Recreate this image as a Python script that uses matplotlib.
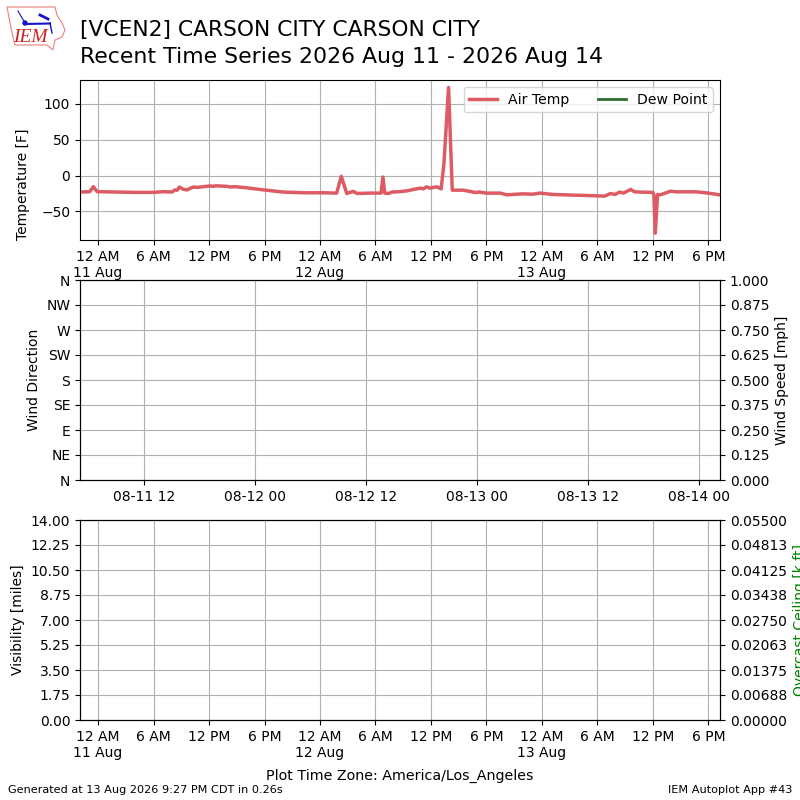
import datetime
import matplotlib
matplotlib.use("Agg")
import matplotlib.pyplot as plt
from matplotlib.patches import Circle, Polygon

# hours since midnight 11 Aug (local), temperature in F
hours = [-1.95, -0.9, -0.5, -0.1, 2, 4, 6, 7, 8, 8.3, 8.55, 8.8, 9.2, 9.6, 10.3, 10.7, 12.1, 12.4, 12.8,
         13.9, 14.3, 14.8, 16, 17.9, 20, 22.2, 24.4, 25.8, 26.3, 26.9, 27.6, 28, 29.4, 30.6, 30.8, 31,
         31.4, 31.8, 32.6, 33.4, 34.8, 35.2, 35.5, 35.9, 36.6, 37.1, 37.4, 37.9, 38.3, 39.5, 40.8, 41.2,
         42, 43.5, 44.2, 45.9, 47, 47.8, 49.2, 51.4, 53.2, 54.8, 55.4, 55.9, 56.4, 56.8, 57.6, 58, 58.6,
         60, 60.1, 60.25, 60.5, 60.8, 61.9, 62.5, 64.7, 66, 67.2]
temps = [-23, -22.5, -15.6, -22.5, -23, -23.5, -23.5, -22.5, -23, -20, -20.5, -16, -19, -20, -16, -16.5, -14.5,
         -15, -14.3, -15, -16, -15.5, -17, -20, -23, -24, -24, -24.5, -1, -25, -22, -25, -24.5, -24.5, -2,
         -24.5, -25, -23, -22.5, -21.3, -17.6, -18.5, -15.7, -17.6, -15.7, -18.5, 16.7, 123, -20.4, -20.4,
         -23.6, -23, -24.5, -24.5, -26.9, -25.5, -26, -24.5, -26.4, -27.3, -28, -28.7, -25, -26.4, -23,
         -24.5, -19.4, -22.7, -23, -23.6, -27, -80.5, -26.4, -26.9, -21.8, -22.7, -22.7, -24.5, -26.9]

wind_labels = ["N", "NE", "E", "SE", "S", "SW", "W", "NW", "N"]
wind_ticks = [0, 45, 90, 135, 180, 225, 270, 315, 360]
speed_ticks = [0, 0.125, 0.25, 0.375, 0.5, 0.625, 0.75, 0.875, 1.0]
vis_ticks = [0, 1.75, 3.5, 5.25, 7, 8.75, 10.5, 12.25, 14]
ceil_labels = ["0.00000", "0.00688", "0.01375", "0.02063", "0.02750", "0.03438", "0.04125", "0.04813", "0.05500"]
temp_ticks = [-50, 0, 50, 100]

tick_hours = [0, 6, 12, 18, 24, 30, 36, 42, 48, 54, 60, 66]
tick_labels = ["12 AM\n11 Aug", "6 AM", "12 PM", "6 PM", "12 AM\n12 Aug", "6 AM", "12 PM", "6 PM",
               "12 AM\n13 Aug", "6 AM", "12 PM", "6 PM"]
# middle panel axis runs 7 hours ahead (UTC)
mid_tick_hours = [12, 24, 36, 48, 60, 72]
mid_tick_labels = ["08-11 12", "08-12 00", "08-12 12", "08-13 00", "08-13 12", "08-14 00"]

day0 = datetime.datetime(2026, 8, 11)


def to_time(h):
    return day0 + datetime.timedelta(hours=h)


times = [to_time(h) for h in hours]
xmin = to_time(-1.95)
xmax = to_time(67.25)

AIR = "#dd5c64"
DEW = "#2e6b30"

fig = plt.figure(figsize=(8, 8), dpi=100)
ax1 = fig.add_axes([0.1, 0.7, 0.8, 0.2])
ax2 = fig.add_axes([0.1, 0.4, 0.8, 0.25])
ax3 = fig.add_axes([0.1, 0.1, 0.8, 0.25])

# temperature
ax1.plot(times, temps, color=AIR, lw=2.5, label="Air Temp")
ax1.plot([], [], color=DEW, lw=2, label="Dew Point")
ax1.set_xlim(xmin, xmax)
ax1.set_ylim(-90, 133.5)
ax1.set_yticks(temp_ticks)
ax1.set_ylabel("Temperature [F]", loc="bottom", labelpad=8)
ax1.set_xticks([to_time(h) for h in tick_hours])
ax1.set_xticklabels(tick_labels)
ax1.grid(True)
ax1.legend(loc="upper right", ncol=2, prop={"size": 10.1})

# wind
ax2.set_xlim(to_time(5.05), to_time(74.25))
ax2.set_ylim(0, 360)
ax2.set_yticks(wind_ticks)
ax2.set_yticklabels(wind_labels)
ax2.set_ylabel("Wind Direction")
ax2.set_xticks([to_time(h) for h in mid_tick_hours])
ax2.set_xticklabels(mid_tick_labels)
ax2.grid(True)
ax2b = ax2.twinx()
ax2b.set_ylim(0, 1)
ax2b.set_yticks(speed_ticks)
ax2b.set_yticklabels(["%.3f" % s for s in speed_ticks])
ax2b.set_ylabel("Wind Speed [mph]")

# visibility / ceiling
ax3.set_xlim(xmin, xmax)
ax3.set_ylim(0, 14)
ax3.set_yticks(vis_ticks)
ax3.set_yticklabels(["%.2f" % v for v in vis_ticks])
ax3.set_ylabel("Visibility [miles]")
ax3.set_xticks([to_time(h) for h in tick_hours])
ax3.set_xticklabels(tick_labels)
ax3.set_xlabel("Plot Time Zone: America/Los_Angeles", labelpad=6.5, fontsize=10.3)
ax3.grid(True)
ax3b = ax3.twinx()
ax3b.set_ylim(0, 0.055)
ax3b.set_yticks([float(c) for c in ceil_labels])
ax3b.set_yticklabels(ceil_labels)
ax3b.set_ylabel("Overcast Ceiling [k ft]", color="green")

# titles
fig.text(0.1, 0.9625, "[VCEN2] CARSON CITY CARSON CITY", fontsize=15.7, va="center")
fig.text(0.1, 0.929, "Recent Time Series 2026 Aug 11 - 2026 Aug 14", fontsize=15.85, va="center")
fig.text(0.01, 0.0125, "Generated at 13 Aug 2026 9:27 PM CDT in 0.26s", fontsize=8.1, va="center")
fig.text(0.99, 0.0125, "IEM Autoplot App #43", fontsize=8.1, va="center", ha="right")

# logo, pixel coordinates
logo = fig.add_axes([0, 0.93, 0.09, 0.07])
logo.set_xlim(0, 72)
logo.set_ylim(56, 0)
logo.axis("off")
iowa = [(7, 7), (55, 7), (57, 15), (62, 23), (65, 30), (62, 37), (55, 40), (53, 50), (47, 45), (15, 45), (13, 37), (10, 23)]
logo.add_patch(Polygon(iowa, closed=True, fill=False, edgecolor="#e88080", lw=0.8))
logo.plot([25, 50], [24, 23.5], color="#1414c8", lw=1.5)
logo.plot([18, 25], [11, 23], color="#1414c8", lw=0.8)
logo.plot([40, 48], [15, 19], color="#1414c8", lw=2)
logo.plot([50, 52], [23, 33], color="#1414c8", lw=1)
logo.add_patch(Circle((25, 23), 2, color="#1414c8"))
logo.text(30.5, 38, "IEM", color="#d02020", family="Liberation Serif", style="italic", fontsize=14, ha="center", va="center")

fig.savefig("out.png", dpi=100)
